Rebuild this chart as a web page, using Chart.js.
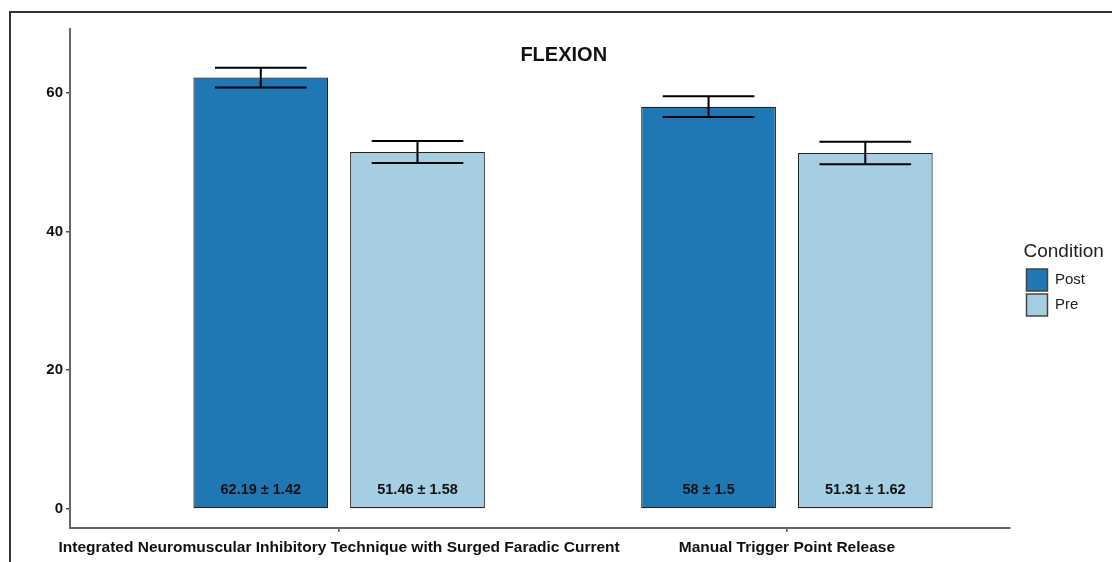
<!DOCTYPE html>
<html>
<head>
<meta charset="utf-8">
<script src="https://cdn.jsdelivr.net/npm/chart.js@4"></script>
<style>
  html, body { margin: 0; padding: 0; background: #fff; overflow: hidden; }
  #frame {
    position: absolute; left: 9px; top: 11px; width: 1200px; height: 700px;
    border: 2px solid #333; box-sizing: border-box;
  }
  #chart { position: absolute; left: 11px; top: 13px; }
</style>
</head>
<body>
<div id="frame"></div>
<canvas id="chart" width="1110" height="551"></canvas>
<script>
// data
const categories = [
    'Integrated Neuromuscular Inhibitory Technique with Surged Faradic Current',
    'Manual Trigger Point Release'
];
const conditions = ['Post', 'Pre'];
const postMeans = [62.19, 58];
const postSD = [1.42, 1.5];
const preMeans = [51.46, 51.31];
const preSD = [1.58, 1.62];
const yTicks = [0, 20, 40, 60];
const colors = ['#1F78B4', '#A6CEE3'];

const font = "'Liberation Sans', Arial, sans-serif";

const datasets = [
    { label: conditions[0], means: postMeans, sd: postSD, color: colors[0] },
    { label: conditions[1], means: preMeans, sd: preSD, color: colors[1] },
].map(d => ({
    label: d.label,
    data: d.means.map((m, i) => ({ x: i + 1, y: m })),
    sd: d.sd,
    backgroundColor: d.color,
    borderColor: '#222',
    borderWidth: 1.2,
    borderSkipped: false,
    categoryPercentage: 0.70,
    barPercentage: 0.86,
}));

// error bars + value labels inside bars
const errorBars = {
    id: 'errorBars',
    afterDatasetsDraw(chart) {
        const ctx = chart.ctx;
        const y = chart.scales.y;
        ctx.save();
        chart.data.datasets.forEach((ds, i) => {
            const meta = chart.getDatasetMeta(i);
            meta.data.forEach((bar, j) => {
                const m = ds.data[j].y;
                const s = ds.sd[j];
                const top = y.getPixelForValue(m + s);
                const bot = y.getPixelForValue(m - s);
                const half = bar.width * 0.34;
                ctx.strokeStyle = '#000';
                ctx.lineWidth = 2;
                ctx.beginPath();
                ctx.moveTo(bar.x - half, top); ctx.lineTo(bar.x + half, top);
                ctx.moveTo(bar.x, top); ctx.lineTo(bar.x, bot);
                ctx.moveTo(bar.x - half, bot); ctx.lineTo(bar.x + half, bot);
                ctx.stroke();

                ctx.fillStyle = '#111';
                ctx.font = 'bold 14.5px ' + font;
                ctx.textAlign = 'center';
                ctx.textBaseline = 'middle';
                ctx.fillText(m + ' \u00B1 ' + s, bar.x, bar.base - 18);
            });
        });
        ctx.restore();
    }
};

const titleInside = {
    id: 'titleInside',
    afterDraw(chart) {
        const ctx = chart.ctx;
        const a = chart.chartArea;
        ctx.save();
        ctx.fillStyle = '#111';
        ctx.font = 'bold 20px ' + font;
        ctx.textAlign = 'center';
        ctx.textBaseline = 'middle';
        ctx.fillText('FLEXION', (a.left + a.right) / 2 + 24, a.top + 26);
        ctx.restore();
    }
};

// nudge the legend a bit away from the plot, like ggplot's legend spacing,
// and widen its box so the title is not clipped
const legendNudge = {
    id: 'legendNudge',
    afterLayout(chart) {
        const lg = chart.legend;
        lg.left += 14; lg.right += 50; lg.width += 36;
        lg.top -= 16; lg.bottom -= 16;
    }
};

new Chart(document.getElementById('chart'), {
    type: 'bar',
    data: { datasets },
    options: {
        responsive: false,
        animation: false,
        layout: { padding: { top: 16, left: 0, right: 40, bottom: 0 } },
        plugins: {
            tooltip: { enabled: false },
            legend: {
                position: 'right',
                align: 'center',
                title: {
                    display: true,
                    text: 'Condition',
                    position: 'start',
                    color: '#222',
                    font: { family: font, size: 19 },
                    padding: { top: 0, bottom: 1 },
                },
                labels: {
                    color: '#222',
                    font: { family: font, size: 15 },
                    boxWidth: 21,
                    boxHeight: 22,
                    padding: 3,
                    generateLabels: chart => chart.data.datasets.map((ds, i) => ({
                        text: ds.label,
                        fillStyle: ds.backgroundColor,
                        strokeStyle: '#444',
                        lineWidth: 1.5,
                        datasetIndex: i,
                    })),
                },
            },
        },
        scales: {
            x: {
                type: 'linear',
                offset: false,
                min: 0.399,
                max: 2.497,
                afterBuildTicks: s => { s.ticks = categories.map((c, i) => ({ value: i + 1 })); },
                afterFit: s => { s.height = 36; },
                grid: { display: true, offset: false, drawOnChartArea: false, tickLength: 4, color: '#555', lineWidth: 1.5 },
                border: { color: '#666', width: 2 },
                ticks: {
                    callback: (v, i) => categories[i],
                    color: '#111',
                    font: { family: font, size: 15.5, weight: 'bold' },
                    padding: 6,
                    maxRotation: 0,
                    autoSkip: false,
                },
            },
            y: {
                min: -2.75,
                max: 69.2,
                afterBuildTicks: s => { s.ticks = yTicks.map(v => ({ value: v })); },
                afterFit: s => { s.width = 59; },
                grid: { display: true, drawOnChartArea: false, tickLength: 4, color: '#555', lineWidth: 1.5 },
                border: { color: '#666', width: 2 },
                ticks: {
                    color: '#111',
                    font: { family: font, size: 15, weight: 'bold' },
                    padding: 3,
                },
            },
        },
    },
    plugins: [errorBars, titleInside, legendNudge],
});
</script>
</body>
</html>
